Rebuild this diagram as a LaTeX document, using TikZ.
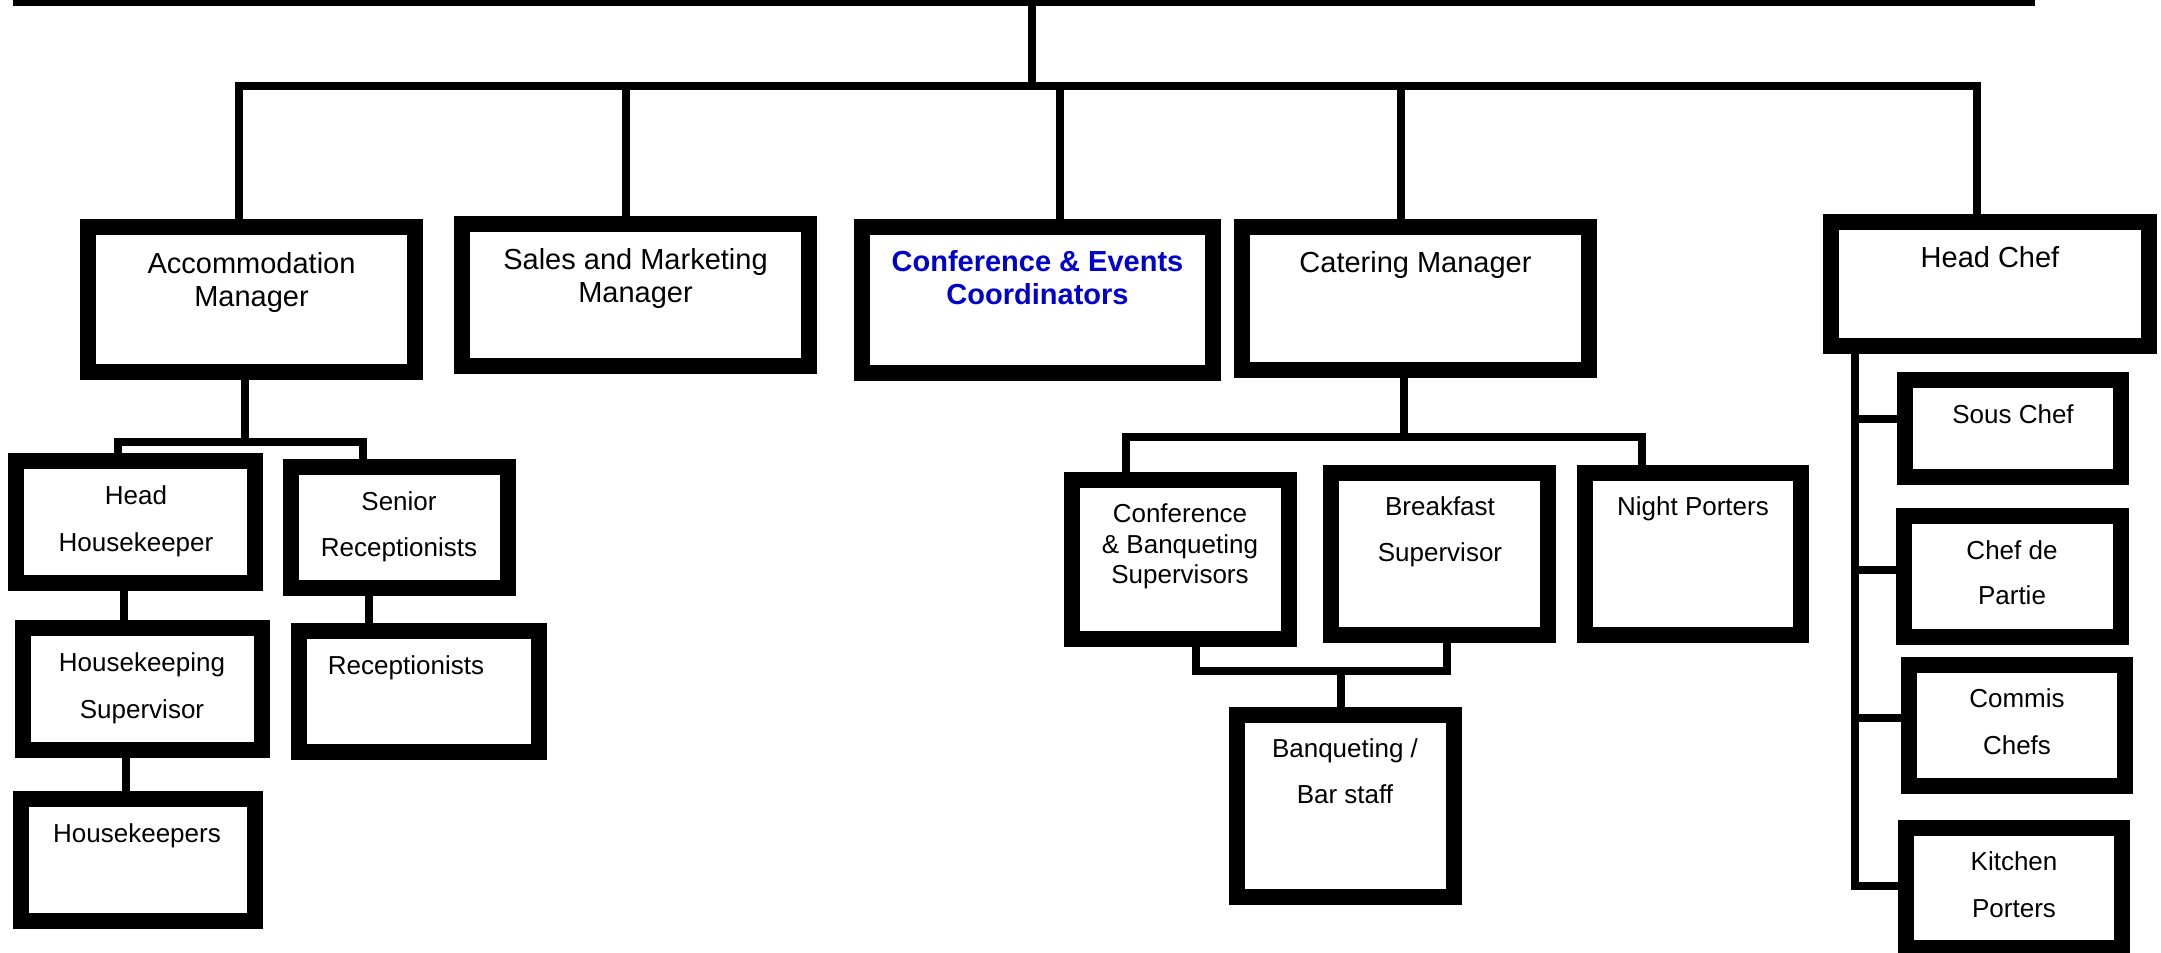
\documentclass[tikz,border=0pt]{standalone}
\usepackage{fontspec}
\setmainfont{Liberation Sans}
\definecolor{confblue}{RGB}{0,0,204}
\tikzset{
  orgbox/.style={draw=black, line width=16pt, fill=white, rectangle, inner sep=0pt},
  link/.style={draw=black, line width=8pt},
  big/.style={font=\fontsize{29}{33}\selectfont, anchor=base, inner sep=0pt},
  small/.style={font=\fontsize{26}{30}\selectfont, anchor=base, inner sep=0pt},
  bigblue/.style={big, font=\fontsize{29}{33}\selectfont\bfseries, text=confblue},
}
\begin{document}
\begin{tikzpicture}[x=1pt,y=-1pt]
\useasboundingbox (0,0) rectangle (2161,953);

% ---------- boxes ----------
\node[orgbox, minimum width=327pt, minimum height=145pt] (acc) at (251.5,299.5) {};
\node[orgbox, minimum width=347pt, minimum height=142pt] (sal) at (635.5,295) {};
\node[orgbox, minimum width=351pt, minimum height=146pt] (conf) at (1037.5,300) {};
\node[orgbox, minimum width=347pt, minimum height=143pt] (cat) at (1415.5,298.5) {};
\node[orgbox, minimum width=318pt, minimum height=124pt] (hc) at (1990,284) {};

\node[orgbox, minimum width=239pt, minimum height=122pt] (hh) at (135.5,522) {};
\node[orgbox, minimum width=217pt, minimum height=121pt] (sr) at (399.5,527.5) {};
\node[orgbox, minimum width=239pt, minimum height=122pt] (hs) at (142.5,689) {};
\node[orgbox, minimum width=240pt, minimum height=121pt] (rec) at (419,691.5) {};
\node[orgbox, minimum width=234pt, minimum height=122pt] (hk) at (138,860) {};

\node[orgbox, minimum width=217pt, minimum height=159pt] (cb) at (1180.5,559.5) {};
\node[orgbox, minimum width=217pt, minimum height=162pt] (bf) at (1439.5,554) {};
\node[orgbox, minimum width=216pt, minimum height=162pt] (np) at (1693,554) {};
\node[orgbox, minimum width=217pt, minimum height=182pt] (bq) at (1345.5,806) {};

\node[orgbox, minimum width=216pt, minimum height=97pt] (sc) at (2013,428.5) {};
\node[orgbox, minimum width=217pt, minimum height=121pt] (cdp) at (2012.5,576.5) {};
\node[orgbox, minimum width=216pt, minimum height=121pt] (cc) at (2017,725.5) {};
\node[orgbox, minimum width=216pt, minimum height=120pt] (kp) at (2014,888) {};

% ---------- junction points ----------
\coordinate (tl) at (13,0);
\coordinate (tr) at (2035,0);
\coordinate (tv) at (1032,0);
\coordinate (tb) at (1032,86);
\coordinate (ja) at (238.5,86);
\coordinate (js) at (626,86);
\coordinate (jc) at (1060,86);
\coordinate (jk) at (1401,86);
\coordinate (jh) at (1977,86);

\coordinate (ab) at (245,442);
\coordinate (ahh) at (118,442);
\coordinate (asr) at (363,442);
\coordinate (x1) at (124,0);
\coordinate (x2) at (369,0);
\coordinate (x3) at (126,0);

\coordinate (cbj) at (1404,437);
\coordinate (ccb) at (1126,437);
\coordinate (cnp) at (1642,437);
\coordinate (lb) at (1196,671);
\coordinate (rb) at (1447,671);
\coordinate (mb) at (1341,671);

\coordinate (hv) at (1855,0);
\coordinate (hb) at (1855,886);
\coordinate (b1) at (1855,419);
\coordinate (b2) at (1855,570);
\coordinate (b3) at (1855,718);

% ---------- connectors ----------
\draw[line width=11pt] (tl) -- (tr);
\draw[link] (tv) -- (tb);
\draw[link, line join=miter] (ja |- acc.north) -- (ja) -- (jh) -- (jh |- hc.north);
\draw[link] (js) -- (js |- sal.north);
\draw[link] (jc) -- (jc |- conf.north);
\draw[link] (jk) -- (jk |- cat.north);

\draw[link] (ab |- acc.south) -- (ab);
\draw[link, line join=miter] (ahh |- hh.north) -- (ahh) -- (asr) -- (asr |- sr.north);
\draw[link] (x1 |- hh.south) -- (x1 |- hs.north);
\draw[link] (x2 |- sr.south) -- (x2 |- rec.north);
\draw[link] (x3 |- hs.south) -- (x3 |- hk.north);

\draw[link] (cbj |- cat.south) -- (cbj);
\draw[link, line join=miter] (ccb |- cb.north) -- (ccb) -- (cnp) -- (cnp |- np.north);
\draw[link, line join=miter] (lb |- cb.south) -- (lb) -- (rb) -- (rb |- bf.south);
\draw[link] (mb) -- (mb |- bq.north);

\draw[link, line join=miter] (hv |- hc.south) -- (hb) -- (hb -| kp.west);
\draw[link] (b1) -- (b1 -| sc.west);
\draw[link] (b2) -- (b2 -| cdp.west);
\draw[link] (b3) -- (b3 -| cc.west);

% ---------- texts ----------
\node[big] (acc1) at (251.5,273) {Accommodation};
\node[big] (acc2) at (251.5,306) {Manager};
\node[big] (sal1) at (635.5,269) {Sales and Marketing};
\node[big] (sal2) at (635.5,302) {Manager};
\node[bigblue] (conf1) at (1037.5,271) {Conference \& Events};
\node[bigblue] (conf2) at (1037.5,304) {Coordinators};
\node[big] (cat1) at (1415.5,272) {Catering Manager};
\node[big] (hc1) at (1990,267) {Head Chef};

\node[small] (hh1) at (136,504) {Head};
\node[small] (hh2) at (136,551) {Housekeeper};
\node[small] (sr1) at (399,510) {Senior};
\node[small] (sr2) at (399,556) {Receptionists};
\node[small] (hs1) at (142,671) {Housekeeping};
\node[small] (hs2) at (142,718) {Supervisor};
\node[small] (rec1) at (406,674) {Receptionists};
\node[small] (hk1) at (137,842) {Housekeepers};

\node[small] (cb1) at (1180,522) {Conference};
\node[small] (cb2) at (1180,553) {\& Banqueting};
\node[small] (cb3) at (1180,583) {Supervisors};
\node[small] (bf1) at (1440,515) {Breakfast};
\node[small] (bf2) at (1440,561) {Supervisor};
\node[small] (np1) at (1693,515) {Night Porters};
\node[small] (bq1) at (1345,757) {Banqueting /};
\node[small] (bq2) at (1345,803) {Bar staff};

\node[small] (sc1) at (2013,423) {Sous Chef};
\node[small] (cdp1) at (2012,559) {Chef de};
\node[small] (cdp2) at (2012,604) {Partie};
\node[small] (cc1) at (2017,707) {Commis};
\node[small] (cc2) at (2017,754) {Chefs};
\node[small] (kp1) at (2014,870) {Kitchen};
\node[small] (kp2) at (2014,917) {Porters};
\end{tikzpicture}
\end{document}
